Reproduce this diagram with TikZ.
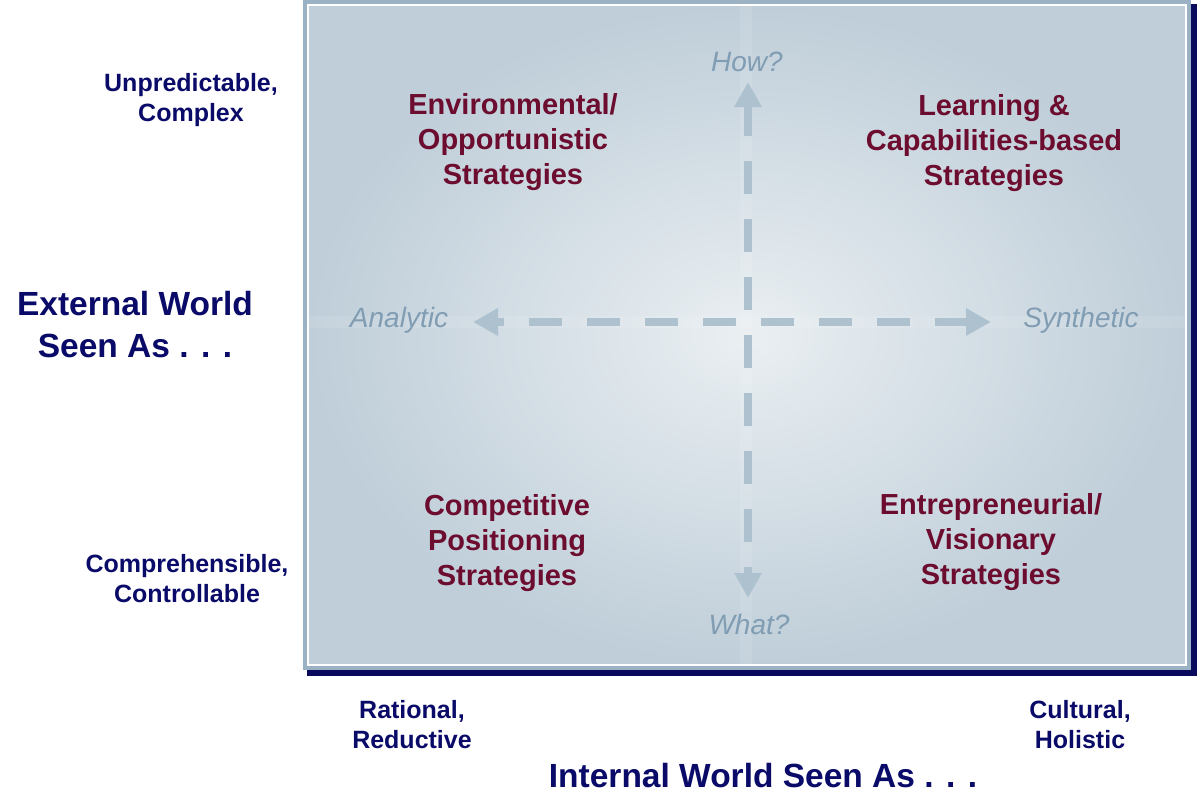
\documentclass[tikz,border=0pt]{standalone}
\usepackage{fontspec}
\setmainfont{Liberation Sans}
\usetikzlibrary{arrows.meta}
\definecolor{navy}{HTML}{0A0A68}
\definecolor{maroon}{HTML}{6C0C2E}
\definecolor{frame}{HTML}{9AB2C4}
\definecolor{shadownavy}{HTML}{0A0A5C}
\definecolor{dashc}{HTML}{ADC1CF}
\definecolor{itc}{HTML}{819DB3}
\definecolor{bgin}{HTML}{EAEFF2}
\definecolor{bgout}{HTML}{BFCED9}
\tikzset{
  axislabel/.style={font=\bfseries\fontsize{33.5}{42}\selectfont, text=navy, align=center, inner sep=0pt},
  poslabel/.style={font=\bfseries\fontsize{25}{30}\selectfont, text=navy, align=center, inner sep=0pt},
  strat/.style={font=\bfseries\fontsize{29}{35}\selectfont, text=maroon, align=center, inner sep=0pt},
  dirlabel/.style={font=\itshape\fontsize{28}{34}\selectfont, text=itc, inner sep=0pt},
  arm/.style={draw=dashc, line width=8pt, dash pattern=on 33pt off 25pt, dash phase=45.5pt,
              -{Triangle[length=25pt,width=26pt]}},
}
\begin{document}
\begin{tikzpicture}[x=1pt,y=-1pt]
\useasboundingbox (0,0) rectangle (1200,803);
% frame
\fill[shadownavy] (307,4) rectangle (1197,676);
\fill[frame] (303,0) rectangle (1191,670);
\shade[inner color=bgin, outer color=bgout] (308,5) rectangle (1186,665);
\draw[white, line width=2pt] (308,5) rectangle (1186,665);
% faint light bands
\fill[white, opacity=0.1] (740,6) rectangle (752,664);
\fill[white, opacity=0.1] (309,316) rectangle (1185,328);
% axes
\coordinate (c) at (748,322);
\coordinate (top) at (748,82);
\coordinate (bot) at (748,598);
\coordinate (lft) at (473,322);
\coordinate (rgt) at (991,322);
\draw[arm] (c) -- (top);
\draw[arm] (c) -- (bot);
\draw[arm] (c) -- (lft);
\draw[arm] (c) -- (rgt);
% direction labels
\node[dirlabel] (how) at (747,62) {How?};
\node[dirlabel] (what) at (749,624) {What?};
\node[dirlabel] (ana) at (399,320) {Analytic};
\node[dirlabel] (syn) at (1081,320) {Synthetic};
% strategies
\node[strat] (env) at (513,142) {Environmental/\\Opportunistic\\Strategies};
\node[strat] (learn) at (994,143) {Learning \&\\Capabilities-based\\Strategies};
\node[strat] (comp) at (507,543) {Competitive\\Positioning\\Strategies};
\node[strat] (entr) at (991,542) {Entrepreneurial/\\Visionary\\Strategies};
% side labels
\node[poslabel] (unp) at (191,100) {Unpredictable,\\Complex};
\node[axislabel] (ext) at (135,325) {External World\\Seen As . . .};
\node[poslabel] (cmp) at (187,579) {Comprehensible,\\Controllable};
\node[poslabel] (rat) at (412,725) {Rational,\\Reductive};
\node[poslabel] (cul) at (1080,725) {Cultural,\\Holistic};
\node[axislabel] (int) at (763,776) {Internal World Seen As . . .};
\end{tikzpicture}
\end{document}
